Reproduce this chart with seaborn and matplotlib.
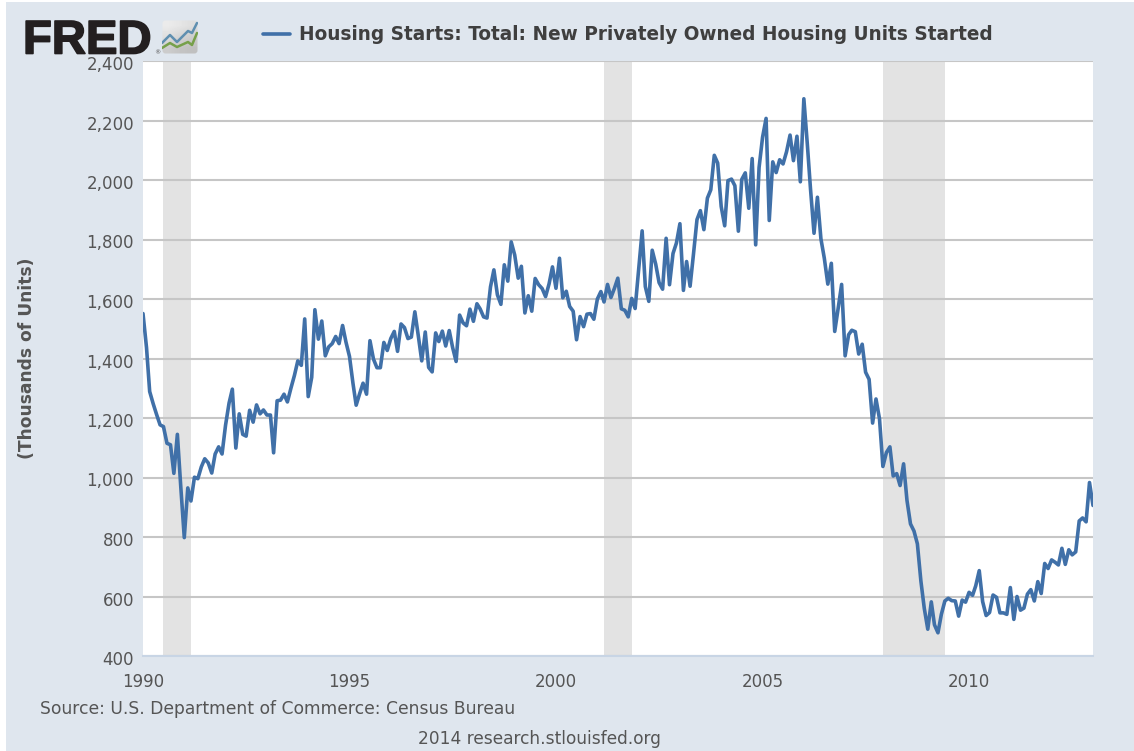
# FRED housing starts chart, 1990 - Jan 2013

import pandas as pd
import seaborn as sns
import matplotlib.pyplot as plt
import matplotlib.patheffects as pe
from matplotlib.lines import Line2D
from matplotlib.patches import Rectangle, FancyBboxPatch
from matplotlib.transforms import ScaledTranslation

W, H = 1134, 751

# Monthly values (thousands of units)
starts_1990 = [1551, 1437, 1289, 1248, 1212, 1177, 1171, 1115, 1110, 1014, 1145, 969]
starts_1991 = [798, 965, 921, 1001, 996, 1036, 1063, 1049, 1015, 1079, 1103, 1079]
starts_1992 = [1176, 1250, 1297, 1099, 1214, 1145, 1139, 1226, 1186, 1244, 1214, 1227]
starts_1993 = [1210, 1210, 1083, 1258, 1260, 1280, 1254, 1300, 1343, 1392, 1377, 1533]
starts_1994 = [1272, 1337, 1564, 1465, 1526, 1409, 1439, 1450, 1474, 1450, 1511, 1455]
starts_1995 = [1407, 1316, 1243, 1282, 1317, 1280, 1460, 1398, 1369, 1369, 1454, 1427]
starts_1996 = [1467, 1491, 1424, 1516, 1504, 1467, 1472, 1557, 1475, 1392, 1489, 1370]
starts_1997 = [1355, 1486, 1457, 1492, 1442, 1494, 1437, 1390, 1546, 1520, 1510, 1566]
starts_1998 = [1525, 1584, 1567, 1540, 1536, 1641, 1698, 1614, 1582, 1715, 1660, 1792]
starts_1999 = [1748, 1670, 1710, 1553, 1611, 1559, 1669, 1648, 1635, 1608, 1651, 1708]
starts_2000 = [1636, 1737, 1604, 1626, 1575, 1559, 1463, 1541, 1507, 1549, 1551, 1532]
starts_2001 = [1600, 1625, 1590, 1649, 1605, 1636, 1670, 1567, 1562, 1540, 1602, 1568]
starts_2002 = [1698, 1829, 1642, 1592, 1764, 1717, 1655, 1633, 1804, 1648, 1753, 1788]
starts_2003 = [1853, 1629, 1726, 1643, 1751, 1867, 1897, 1833, 1939, 1967, 2083, 2057]
starts_2004 = [1911, 1846, 1998, 2003, 1981, 1828, 2002, 2024, 1905, 2072, 1782, 2042]
starts_2005 = [2144, 2207, 1864, 2061, 2025, 2068, 2054, 2095, 2151, 2065, 2147, 1994]
starts_2006 = [2273, 2119, 1969, 1821, 1942, 1802, 1737, 1650, 1720, 1491, 1570, 1649]
starts_2007 = [1409, 1480, 1495, 1490, 1415, 1448, 1354, 1330, 1183, 1264, 1197, 1037]
starts_2008 = [1084, 1103, 1005, 1013, 973, 1046, 923, 844, 820, 777, 652, 560]
starts_2009 = [490, 582, 505, 478, 540, 585, 594, 586, 585, 534, 588, 581]
starts_2010 = [614, 604, 636, 687, 583, 536, 546, 605, 597, 545, 545, 540]
starts_2011 = [630, 523, 600, 554, 561, 608, 623, 585, 650, 610, 711, 694]
starts_2012 = [723, 715, 706, 762, 708, 757, 740, 750, 854, 864, 851, 983]
starts_2013 = [906]

recession_starts = ["1990-07-01", "2001-03-01", "2007-12-01"]
recession_ends = ["1991-03-01", "2001-11-01", "2009-06-01"]

y_ticks = [400, 600, 800, 1000, 1200, 1400, 1600, 1800, 2000, 2200, 2400]
x_tick_years = [1990, 1995, 2000, 2005, 2010]

BG = "#dfe6ee"
LINE = "#4070a8"
TEXT = "#555555"


def fx(px):
    return px / W


def fy(py):
    return 1 - py / H


def draw_background(fig):
    fig.patch.set_facecolor("white")
    fig.add_artist(Rectangle((fx(6), 0), 1 - fx(6), fy(2), transform=fig.transFigure,
                             facecolor=BG, edgecolor="none", zorder=-5))


def draw_logo(fig):
    fig.text(fx(23), fy(53.5), "FRED", family="Liberation Sans", fontweight="bold",
             fontsize=34, color="#231f20", va="baseline", ha="left",
             path_effects=[pe.withStroke(linewidth=1.2, foreground="#231f20")])
    fig.text(fx(157), fy(54), "®", fontsize=4.5, color="#555555", ha="center", va="baseline")

    # small chart icon next to the name
    icon = fig.add_axes([fx(162), fy(54), fx(36), 34 / H])
    icon.set_xlim(0, 36)
    icon.set_ylim(0, 34)
    icon.axis("off")
    box = FancyBboxPatch((0.5, 0.5), 35, 33, boxstyle="round,pad=0,rounding_size=3",
                         facecolor="none", edgecolor="none")
    icon.add_patch(box)
    shade = icon.imshow([[0.92, 0.9, 0.87], [0.87, 0.83, 0.8], [0.8, 0.77, 0.75]],
                        cmap="gray", vmin=0, vmax=1, extent=(0, 36, 0, 34),
                        interpolation="bilinear", aspect="auto")
    shade.set_clip_path(box)
    icon.plot([0, 8, 15, 26, 30, 35], [11, 19, 12, 23, 21, 31], color="#5f8fb0", lw=1.8)
    icon.plot([0, 8, 15, 26, 30, 35], [6, 11, 7, 12, 9, 21], color="#76a04a", lw=1.8)


def draw_title(fig):
    fig.add_artist(Line2D([fx(263), fx(290)], [fy(34), fy(34)], transform=fig.transFigure,
                          color=LINE, lw=2.6))
    fig.text(fx(299), fy(34), "Housing Starts: Total: New Privately Owned Housing Units Started",
             fontweight="bold", fontsize=13.37, color="#3f3f3f", va="center", ha="left")


def draw_chart(fig):
    ax = fig.add_axes([fx(143), fy(656), fx(1093 - 143), (656 - 61) / H])

    values = (starts_1990 + starts_1991 + starts_1992 + starts_1993 + starts_1994
              + starts_1995 + starts_1996 + starts_1997 + starts_1998 + starts_1999
              + starts_2000 + starts_2001 + starts_2002 + starts_2003 + starts_2004
              + starts_2005 + starts_2006 + starts_2007 + starts_2008 + starts_2009
              + starts_2010 + starts_2011 + starts_2012 + starts_2013)
    df = pd.DataFrame({"date": pd.date_range("1990-01-01", periods=len(values), freq="MS"),
                       "starts": values})

    for start, end in zip(recession_starts, recession_ends):
        ax.axvspan(pd.Timestamp(start), pd.Timestamp(end), color="#e3e3e3", lw=0, zorder=0)

    sns.lineplot(data=df, x="date", y="starts", ax=ax, color=LINE, linewidth=2.6,
                 errorbar=None, zorder=3)

    ax.set_xlim(pd.Timestamp("1990-01-01"), df["date"].iloc[-1])
    ax.set_ylim(400, 2400)
    ax.set_xlabel("")
    ax.set_ylabel("")
    ax.set_facecolor("white")

    ax.set_yticks(y_ticks)
    ax.set_yticklabels([f"{v:,}" for v in y_ticks])
    ax.set_xticks([pd.Timestamp(f"{y}-01-01") for y in x_tick_years])
    ax.set_xticklabels([str(y) for y in x_tick_years])

    ax.grid(False)
    ax.grid(axis="y", color="#c6c6c6", linewidth=1.5, zorder=1)
    ax.set_axisbelow(True)
    ax.tick_params(axis="y", length=0, pad=6.5, labelsize=12, labelcolor=TEXT)
    ax.tick_params(axis="x", length=12, width=1, color="#c8d5e5", pad=0,
                   labelsize=12, labelcolor=TEXT)

    # y labels sit a little below their grid lines
    offset = ScaledTranslation(0, -2 / fig.dpi, fig.dpi_scale_trans)
    for label in ax.get_yticklabels():
        label.set_transform(label.get_transform() + offset)

    for side in ["top", "left", "right"]:
        ax.spines[side].set_visible(False)
    ax.spines["bottom"].set_color("#c8d5e5")
    ax.spines["bottom"].set_linewidth(1.5)

    fig.text(fx(27), fy(358), "(Thousands of Units)", rotation=90, fontweight="bold",
             fontsize=12.3, color=TEXT, ha="center", va="center")
    fig.text(fx(40), fy(709), "Source: U.S. Department of Commerce: Census Bureau",
             fontsize=12.3, color=TEXT, ha="left", va="center")
    fig.text(fx(418), fy(739), "2014 research.stlouisfed.org",
             fontsize=12.25, color=TEXT, ha="left", va="center")


def main():
    sns.set_theme(style="white")
    plt.rcParams["font.family"] = ["DejaVu Sans"]
    fig = plt.figure(figsize=(W / 100, H / 100), dpi=100)
    draw_background(fig)
    draw_chart(fig)
    draw_logo(fig)
    draw_title(fig)
    fig.savefig("out.png", dpi=100, facecolor=fig.get_facecolor())


if __name__ == "__main__":
    main()
